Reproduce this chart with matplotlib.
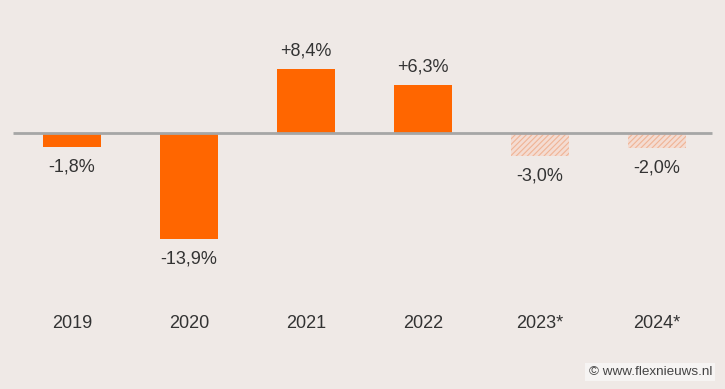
import matplotlib
matplotlib.use("Agg")
import matplotlib.pyplot as plt

years = ["2019", "2020", "2021", "2022", "2023*", "2024*"]
values = [-1.8, -13.9, 8.4, 6.3, -3.0, -2.0]
labels = ["-1,8%", "-13,9%", "+8,4%", "+6,3%", "-3,0%", "-2,0%"]
forecast = [False, False, False, False, True, True]

plt.rcParams['font.family'] = ['Liberation Sans', 'DejaVu Sans']
plt.rcParams['hatch.linewidth'] = 0.8
bg = "#efe9e6"
fig = plt.figure(figsize=(7.25, 3.89), dpi=100, facecolor=bg)
ax = fig.add_axes([0, 0, 1, 1])
ax.set_facecolor(bg)
ax.set_xlim(-0.615, 5.582)
ax.set_ylim(-33.46, 17.39)
ax.axis("off")

x = list(range(len(years)))
for xi, v, f in zip(x, values, forecast):
    if f:
        ax.bar(xi, v, width=0.5, color="#f4dcd2", edgecolor="#f0b495",
               hatch="//////", linewidth=0, zorder=2)
    else:
        ax.bar(xi, v, width=0.5, color="#ff6600", linewidth=0, zorder=2)

ax.plot([-0.505, 5.47], [0, 0], color="#a6a6a6", lw=2, zorder=3,
        solid_capstyle="butt")

for xi, v, lab in zip(x, values, labels):
    if v >= 0:
        ax.text(xi, v + 2.35, lab, ha="center", va="center", fontsize=13,
                color="#333333")
    else:
        ax.text(xi, v - 2.6, lab, ha="center", va="center", fontsize=13,
                color="#333333")

for xi, y in zip(x, years):
    ax.text(xi, -24.85, y, ha="center", va="center", fontsize=13,
            color="#333333")

fig.text(0.982, 0.044, "© www.flexnieuws.nl", ha="right", va="center",
         fontsize=9.7, color="#444444",
         bbox=dict(boxstyle="square,pad=0.25", facecolor="#f6f4f3",
                   edgecolor="none"))

fig.savefig("out.png", dpi=100, facecolor=bg)
